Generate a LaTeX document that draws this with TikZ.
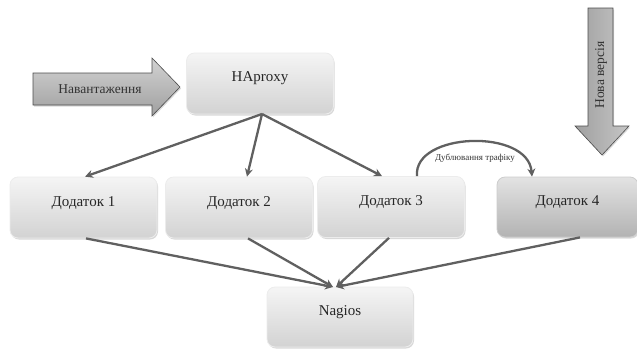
\documentclass[tikz,border=0pt]{standalone}
\usepackage{fontspec}
\setmainfont{Liberation Serif}
\usetikzlibrary{arrows.meta,shadows}
\begin{document}
\begin{tikzpicture}[x=1pt,y=-1pt,
  box/.style={rectangle, rounded corners=8pt, minimum width=147pt, minimum height=61pt,
    top color=gray!8, bottom color=gray!35, draw=gray!15, line width=0.8pt,
    drop shadow={shadow xshift=1pt, shadow yshift=-1.5pt, fill=gray!60, opacity=0.5},
    font=\fontsize{15}{17}\selectfont, text=black!85},
  darkbox/.style={box, top color=gray!22, bottom color=gray!60, draw=gray!40},
  conn/.style={draw=gray!75!black, line width=2.3pt, -{Stealth[length=8pt,width=8pt]}},
  bigarrow/.style={draw=gray!60!black, line width=0.6pt,
    drop shadow={shadow xshift=1pt, shadow yshift=-1.5pt, fill=gray!60, opacity=0.5}},
  arrowtext/.style={font=\fontsize{13.5}{15}\selectfont, text=black!80},
]
\useasboundingbox (0,0) rectangle (637,349);

% big arrows
\path[bigarrow, top color=gray!35, bottom color=gray!75]
  (33,73) -- (152,73) -- (152,58) -- (180,87) -- (152,116) -- (152,105) -- (33,105) -- cycle;
\node[arrowtext] (loadtxt) at (100,89) {Навантаження};

\path[bigarrow, left color=gray!75, right color=gray!45]
  (588,8) -- (613,8) -- (613,126) -- (629,126) -- (602,155) -- (575,126) -- (588,126) -- cycle;
\node[rotate=90, arrowtext] (newvertxt) at (601,75) {Нова версія};

% boxes
\node[box] (ha) at (260,83.5) {\raisebox{2pt}[0pt][0pt]{HAproxy}};
\node[box] (d1) at (83.5,207.5) {\raisebox{1.5pt}[0pt][0pt]{Додаток 1}};
\node[box] (d2) at (239,207.5) {\raisebox{1.5pt}[0pt][0pt]{Додаток 2}};
\node[box] (d3) at (391,207) {\raisebox{1.5pt}[0pt][0pt]{Додаток 3}};
\node[darkbox, minimum width=141pt, minimum height=60pt] (d4) at (567.5,207) {\raisebox{1.5pt}[0pt][0pt]{Додаток 4}};
\node[box, minimum width=146pt, minimum height=60pt] (nag) at (340,317) {\raisebox{1.5pt}[0pt][0pt]{Nagios}};

% connectors from HAproxy
\coordinate (haout) at (262,114);
\draw[conn] (haout) -- (d1.north -| 85,0);
\draw[conn] (haout) -- (d2.north -| 247,0);
\draw[conn] (haout) -- (d3.north -| 382,0);

% connectors to Nagios
\coordinate (nagin1) at (333,287);
\coordinate (nagin2) at (336,287);
\draw[conn] (d1.south -| 86,0) -- (nagin1);
\draw[conn] (d2.south -| 248,0) -- (nagin1);
\draw[conn] (d3.south -| 389,0) -- (nagin2);
\draw[conn] (d4.south -| 580,0) -- (nagin2);

% traffic duplication
\draw[conn] (d3.north -| 417,0) .. controls (413,132) and (528,128) .. (d4.north -| 532,0);
\node[font=\fontsize{9}{10}\selectfont, text=black!80] (duptxt) at (475,158) {Дублювання трафіку};
\end{tikzpicture}
\end{document}
